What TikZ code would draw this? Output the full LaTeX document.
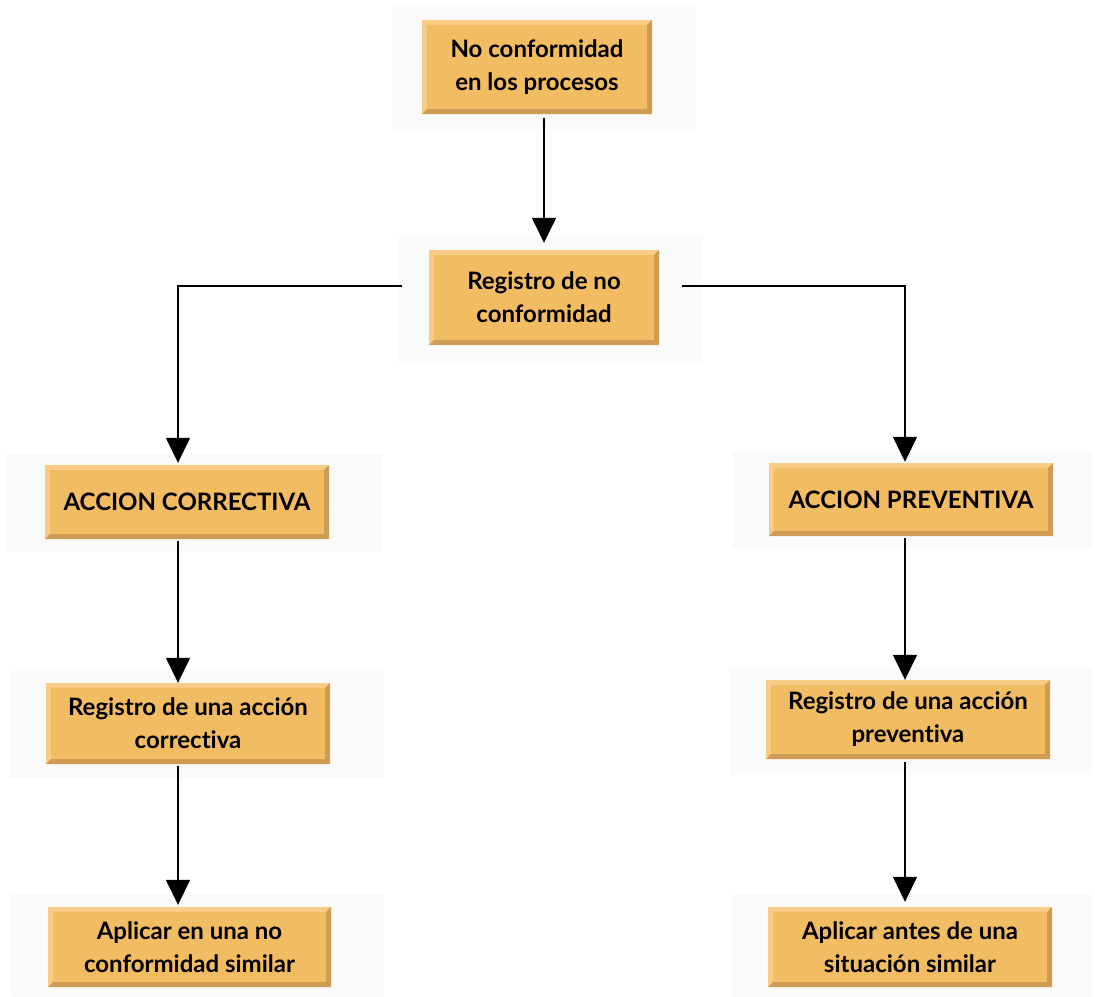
\documentclass[tikz,border=0pt]{standalone}
\usepackage{fontspec}
\setmainfont[Ligatures={NoCommon}]{Lato}
\usetikzlibrary{arrows.meta}
\definecolor{boxfill}{HTML}{F2BC62}
\definecolor{boxlight}{HTML}{F7CC84}
\definecolor{boxdark}{HTML}{CE9C54}
\definecolor{panelgray}{HTML}{FAFAFA}
\tikzset{
  panel/.style={fill=panelgray, draw=none, inner sep=0pt},
  obox/.style={fill=boxfill, draw=none, inner sep=0pt, align=center,
    font=\fontsize{24}{33}\selectfont\bfseries, text=black,
    path picture={
      \fill[boxlight] (path picture bounding box.south west) -- ++(5pt,5pt)
        -- ([shift={(5pt,-5pt)}]path picture bounding box.north west)
        -- ([shift={(-5pt,-5pt)}]path picture bounding box.north east)
        -- (path picture bounding box.north east)
        -- (path picture bounding box.north west) -- cycle;
      \fill[boxdark] (path picture bounding box.south west) -- ++(5pt,5pt)
        -- ([shift={(-5pt,5pt)}]path picture bounding box.south east)
        -- ([shift={(-5pt,-5pt)}]path picture bounding box.north east)
        -- (path picture bounding box.north east)
        -- (path picture bounding box.south east) -- cycle;
      \fill[boxfill] ([shift={(5pt,5pt)}]path picture bounding box.south west)
        rectangle ([shift={(-5pt,-5pt)}]path picture bounding box.north east);
    }},
  conn/.style={line width=1.5pt, draw=black},
  arr/.style={conn, -{Triangle[width=24pt,length=25pt]}},
}
\begin{document}
\begin{tikzpicture}[x=1pt,y=-1pt]
\useasboundingbox (0,0) rectangle (1095,996);
% background panels
\node[panel, minimum width=304pt, minimum height=126pt] (p1) at (544,68) {};
\node[panel, minimum width=304pt, minimum height=128pt] (p2) at (551,299) {};
\node[panel, minimum width=376pt, minimum height=98pt] (p3) at (195,503) {};
\node[panel, minimum width=359pt, minimum height=97pt] (p4) at (912.5,500.5) {};
\node[panel, minimum width=375pt, minimum height=107pt] (p5) at (196.5,724.5) {};
\node[panel, minimum width=363pt, minimum height=108pt] (p6) at (910.5,721) {};
\node[panel, minimum width=373pt, minimum height=102pt] (p7) at (197.5,945) {};
\node[panel, minimum width=360pt, minimum height=102pt] (p8) at (912,945) {};
% boxes
\node[obox, minimum width=230pt, minimum height=94pt] (top) at (537,67) {No conformidad\\en los procesos};
\node[obox, minimum width=230pt, minimum height=95pt] (reg) at (544,297.5) {Registro de no\\conformidad};
\node[obox, minimum width=284pt, minimum height=74pt] (ac) at (187,502) {ACCION CORRECTIVA};
\node[obox, minimum width=284pt, minimum height=73pt] (ap) at (911,499.5) {ACCION PREVENTIVA};
\node[obox, minimum width=284pt, minimum height=81pt] (rc) at (188,723.5) {Registro de una acción\\correctiva};
\node[obox, minimum width=284pt, minimum height=79pt] (rp) at (908,719.5) {Registro de una acción\\preventiva};
\node[obox, minimum width=283pt, minimum height=80pt] (anc) at (189.5,947) {Aplicar en una no\\conformidad similar};
\node[obox, minimum width=284pt, minimum height=80pt] (aap) at (910,947) {Aplicar antes de una\\situación similar};
% guide coordinates
\coordinate (cl) at (178,0);
\coordinate (cr) at (905,0);
\coordinate (hl) at (402,286);
\coordinate (hr) at (682,286);
% connectors
\draw[arr] ([yshift=-4pt]top.south -| reg.north) -- ([yshift=7pt]reg.north);
\draw[arr] (hl) -| ([yshift=2pt]ac.north -| cl);
\draw[arr] (hr) -| ([yshift=1pt]ap.north -| cr);
\draw[arr] ([yshift=-2pt]ac.south -| cl) -- (rc.north -| cl);
\draw[arr] ([yshift=-2pt]rc.south -| cl) -- ([yshift=2pt]anc.north -| cl);
\draw[arr] ([yshift=-2pt]ap.south -| cr) -- (rp.north -| cr);
\draw[arr] ([yshift=-3pt]rp.south -| cr) -- ([yshift=5pt]aap.north -| cr);
\end{tikzpicture}
\end{document}
